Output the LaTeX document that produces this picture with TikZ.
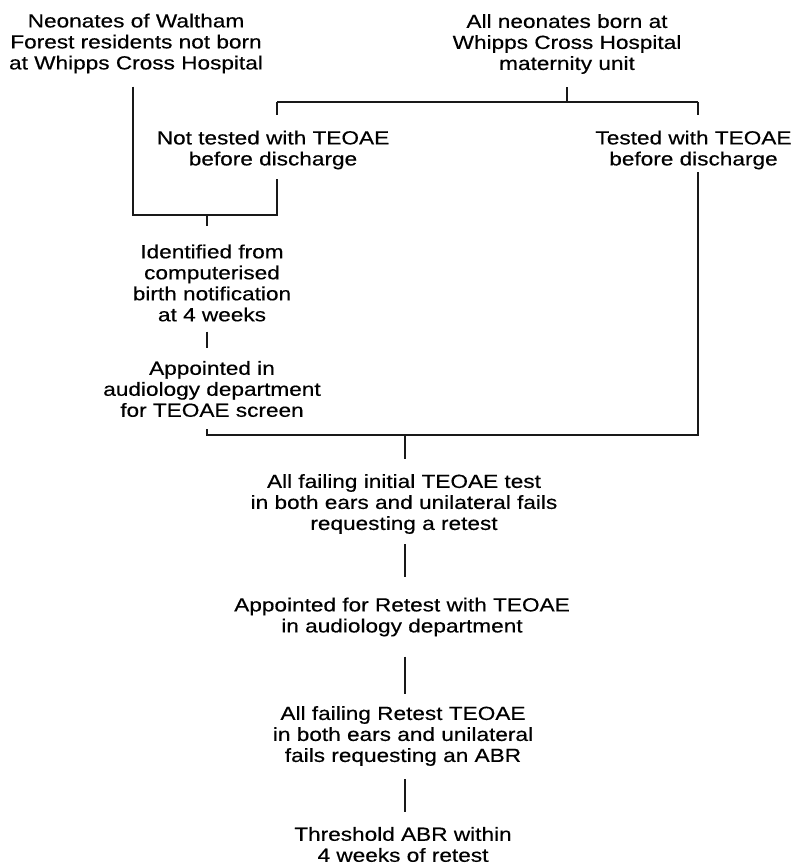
\documentclass[tikz,border=0pt]{standalone}
\usepackage{fontspec}
\setmainfont{Liberation Sans}[FakeStretch=1.19, FakeBold=0.4]
\begin{document}
\begin{tikzpicture}[x=1pt,y=-1pt,
  lbl/.style={align=center, inner sep=0pt, font=\fontsize{19}{21}\selectfont},
  conn/.style={draw=black!90, line width=1.2pt}]
\useasboundingbox (0,0) rectangle (796,866);
% nodes
\node[lbl] (N1) at (136,43.5) {Neonates of Waltham\\Forest residents not born\\at Whipps Cross Hospital};
\node[lbl] (N2) at (567,44) {All neonates born at\\Whipps Cross Hospital\\maternity unit};
\node[lbl] (N3) at (273,150) {Not tested with TEOAE\\before discharge};
\node[lbl] (N4) at (693.5,150) {Tested with TEOAE\\before discharge};
\node[lbl] (N5) at (212,283) {Identified from\\computerised\\birth notification\\at 4 weeks};
\node[lbl] (N6) at (212,389) {Appointed in\\audiology department\\for TEOAE screen};
\node[lbl] (N7) at (404,504) {All failing initial TEOAE test\\in both ears and unilateral fails\\requesting a retest};
\node[lbl] (N8) at (402,617) {Appointed for Retest with TEOAE\\in audiology department};
\node[lbl] (N9) at (403,736) {All failing Retest TEOAE\\in both ears and unilateral\\fails requesting an ABR};
\node[lbl] (N10) at (403,844.5) {Threshold ABR within\\4 weeks of retest};
% junction coordinates
\coordinate (bl) at (277,102);
\coordinate (br) at (698,102);
\coordinate (bt) at (567,102);
\coordinate (lb1) at (133,215);
\coordinate (lb2) at (277,215);
\coordinate (lbm) at (207,215);
\coordinate (mb1) at (207,435);
\coordinate (mb2) at (698,435);
\coordinate (mbm) at (405,435);
% connectors
\draw[conn, shorten <=13pt] (N2.south) -- (bt);
\draw[conn] (bl) -- (br);
\draw[conn, shorten >=15pt] (bl) -- (bl |- N3.north);
\draw[conn, shorten >=15pt] (br) -- (br |- N4.north);
\draw[conn, shorten <=13pt, shorten >=9pt] (lb1 |- N1.south) -- (lb1) -- (lb2) -- (lb2 |- N3.south);
\draw[conn, shorten >=18pt] (lbm) -- (lbm |- N5.north);
\draw[conn, shorten <=10pt, shorten >=13pt] (lbm |- N5.south) -- (lbm |- N6.north);
\draw[conn, shorten <=12pt, shorten >=2pt] (mb1 |- N6.south) -- (mb1) -- (mb2) -- (mb2 |- N4.south);
\draw[conn, shorten >=15pt] (mbm) -- (mbm |- N7.north);
\draw[conn, shorten <=10pt, shorten >=20pt] (mbm |- N7.south) -- (mbm |- N8.north);
\draw[conn, shorten <=20pt, shorten >=12pt] (mbm |- N8.south) -- (mbm |- N9.north);
\draw[conn, shorten <=13pt, shorten >=15pt] (mbm |- N9.south) -- (mbm |- N10.north);
\end{tikzpicture}
\end{document}
